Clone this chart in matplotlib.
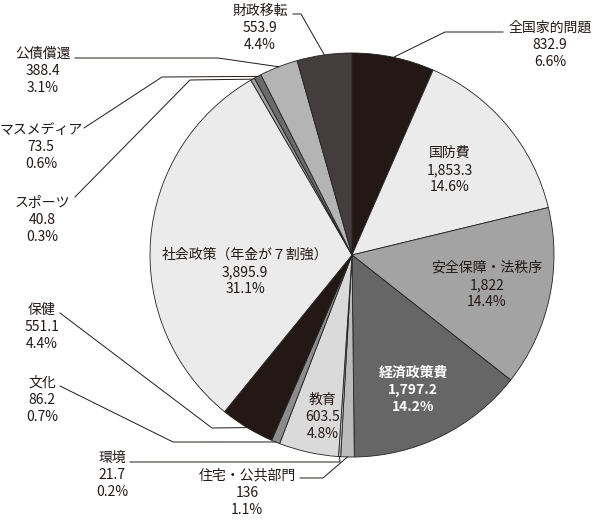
import matplotlib
matplotlib.use("Agg")
import matplotlib.pyplot as plt
import numpy as np

plt.rcParams['font.family'] = ['Noto Sans CJK JP', 'DejaVu Sans']

# slices, clockwise from 12 o'clock
names = ['全国家的問題', '国防費', '安全保障・法秩序', '経済政策費', '住宅・公共部門',
         '環境', '教育', '文化', '保健', '社会政策（年金が７割強）',
         'スポーツ', 'マスメディア', '公債償還', '財政移転']
values = [832.9, 1853.3, 1822, 1797.2, 136, 21.7, 603.5, 86.2, 551.1, 3895.9,
          40.8, 73.5, 388.4, 553.9]
value_text = ['832.9', '1,853.3', '1,822', '1,797.2', '136', '21.7', '603.5', '86.2',
              '551.1', '3,895.9', '40.8', '73.5', '388.4', '553.9']
pct_text = ['6.6%', '14.6%', '14.4%', '14.2%', '1.1%', '0.2%', '4.8%', '0.7%',
            '4.4%', '31.1%', '0.3%', '0.6%', '3.1%', '4.4%']
colors = ['#231815', '#ebebeb', '#a3a3a3', '#666666', '#bcbcbc', '#cacaca', '#dadada',
          '#8c8c8c', '#231815', '#ebebeb', '#a0a0a0', '#6b6b6b', '#b4b4b4', '#433d3d']

W, H = 603, 522
fig = plt.figure(figsize=(W / 100, H / 100), dpi=100)
ax = fig.add_axes([0, 0, 1, 1])

cx, cy, r = 352, H - 255, 202
wedges, _ = ax.pie(values, colors=colors, startangle=90, counterclock=False,
                   center=(cx, cy), radius=r,
                   wedgeprops=dict(edgecolor='#222222', linewidth=0.6))
ax.set_xlim(0, W)
ax.set_ylim(0, H)
ax.set_aspect('equal')
ax.axis('off')

FS = 10
LS = 1.3

def txt(i):
    return names[i] + '\n' + value_text[i] + '\n' + pct_text[i]

# labels inside the pie: index -> (x, y) in pixels from top-left
inside = {1: (450, 170), 2: (487, 285), 3: (413, 390), 6: (323, 417), 9: (245, 272)}
for i, (x, y) in inside.items():
    white = i == 3
    ax.text(x, H - y, txt(i), ha='center', va='center', fontsize=FS, linespacing=LS,
            color='white' if white else '#231815',
            fontweight='bold' if white else 'normal')

# labels outside with leader lines: index -> (text x, text y, start pt, elbow pt)
outside = {
    0: (550, 45, (503, 32), (445, 32)),
    13: (260, 28, (293, 14), (301, 14)),
    12: (43, 71, (75, 58), (218, 58)),
    11: (41, 147, (84, 128), (162, 77)),
    10: (42, 220, (75, 197), (190, 80)),
    8: (42, 327, (60, 313), (212, 428)),
    7: (42, 400, (60, 386), (173, 442)),
    5: (112, 475, (130, 462), (340, 462)),
    4: (247, 493, (300, 478), (323, 478)),
}
for i, (x, y, p0, p1) in outside.items():
    ax.text(x, H - y, txt(i), ha='center', va='center', fontsize=FS,
            linespacing=LS, color='#231815')
    w = wedges[i]
    mid = np.deg2rad((w.theta1 + w.theta2) / 2)
    ex, ey = cx + r * np.cos(mid), cy + r * np.sin(mid)
    ax.plot([p0[0], p1[0], ex], [H - p0[1], H - p1[1], ey],
            color='#231815', linewidth=0.7)

fig.savefig('out.png', dpi=100)
